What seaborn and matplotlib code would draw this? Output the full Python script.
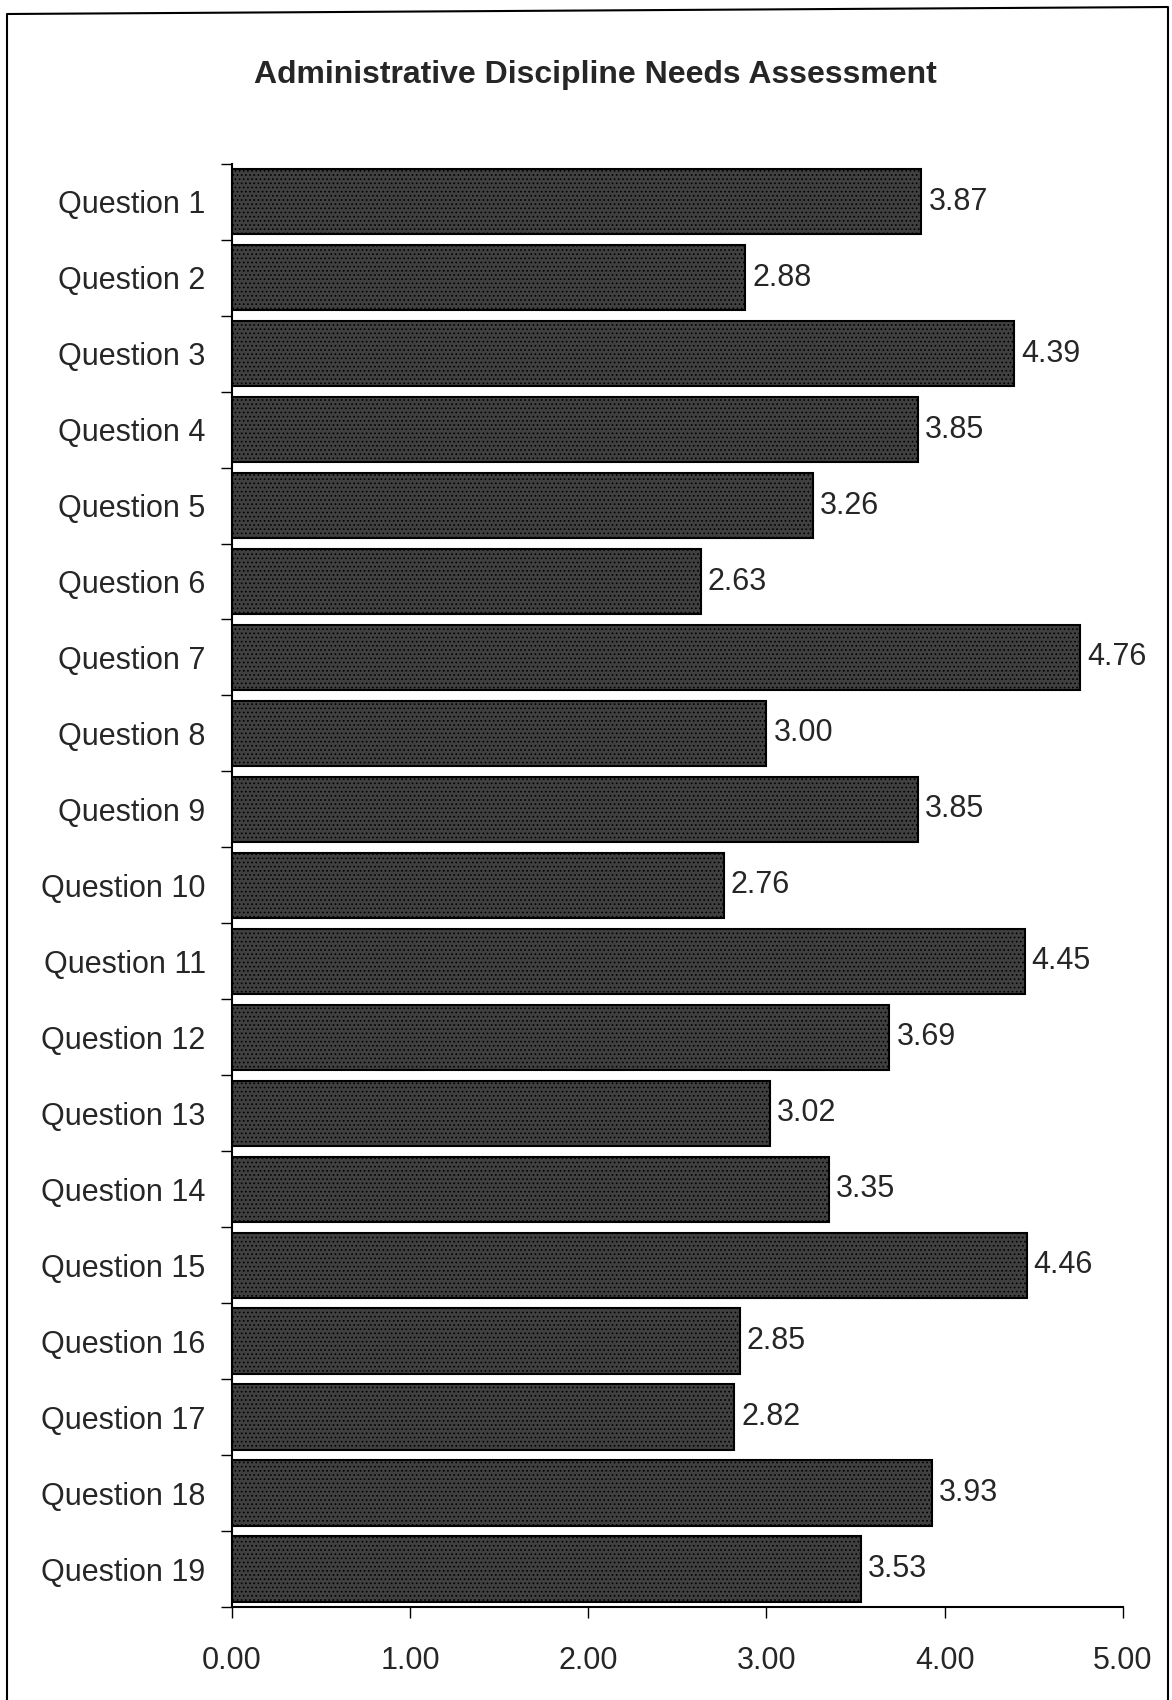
"""Horizontal bar chart: administrative discipline needs assessment."""

import matplotlib
matplotlib.use("Agg")
import matplotlib.pyplot as plt
import seaborn as sns
import pandas as pd
from matplotlib.lines import Line2D

questions = [f"Question {i}" for i in range(1, 20)]
scores = [3.87, 2.88, 4.39, 3.85, 3.26, 2.63, 4.76, 3.00, 3.85, 2.76,
          4.45, 3.69, 3.02, 3.35, 4.46, 2.85, 2.82, 3.93, 3.53]
xticks = [0, 1, 2, 3, 4, 5]

df = pd.DataFrame({"question": questions, "score": scores})

sns.set_style("white")
plt.rcParams["font.family"] = ["Liberation Sans", "DejaVu Sans"]
plt.rcParams["hatch.color"] = "#dcdcdc"
plt.rcParams["hatch.linewidth"] = 0.7

fig = plt.figure(figsize=(11.72, 17), dpi=100)
ax = fig.add_axes([0.198, 0.0547, 0.760, 0.849])

sns.barplot(data=df, x="score", y="question", orient="h",
            color="#404040", saturation=1, width=0.86,
            edgecolor="black", linewidth=1.5, ax=ax)
for bar in ax.patches:
    bar.set_hatch("....")

ax.bar_label(ax.containers[0], fmt="%.2f", padding=5, fontsize=22)

ax.set_xlim(0, 5)
ax.set_ylim(18.5, -0.5)
ax.set_xticks(xticks)
ax.set_xticklabels([f"{v:.2f}" for v in xticks], fontsize=22)
ax.tick_params(axis="x", direction="out", length=8, width=1, pad=20,
               bottom=True, color="black")

# category ticks sit between the bars
ax.set_yticks(range(len(questions)))
ax.set_yticklabels(questions, fontsize=22)
ax.set_yticks([i - 0.5 for i in range(len(questions) + 1)], minor=True)
ax.tick_params(axis="y", which="major", length=0, pad=19)
ax.tick_params(axis="y", which="minor", direction="out", length=8,
               width=1, left=True, color="black")
ax.set_xlabel("")
ax.set_ylabel("")

for side in ["top", "right"]:
    ax.spines[side].set_visible(False)
for side in ["left", "bottom"]:
    ax.spines[side].set_color("black")
    ax.spines[side].set_linewidth(1.5)

ax.set_title("Administrative Discipline Needs Assessment", fontsize=23,
             fontweight="bold", x=0.408, pad=58)

# scanned page frame
fx = [7 / 1172, 7 / 1172, 1168 / 1172, 1168 / 1172]
fy = [0.0, 1 - 14 / 1700, 1 - 7 / 1700, 0.0]
fig.add_artist(Line2D(fx, fy, transform=fig.transFigure, color="black",
                      linewidth=1.5))

fig.savefig("out.png", dpi=100)
